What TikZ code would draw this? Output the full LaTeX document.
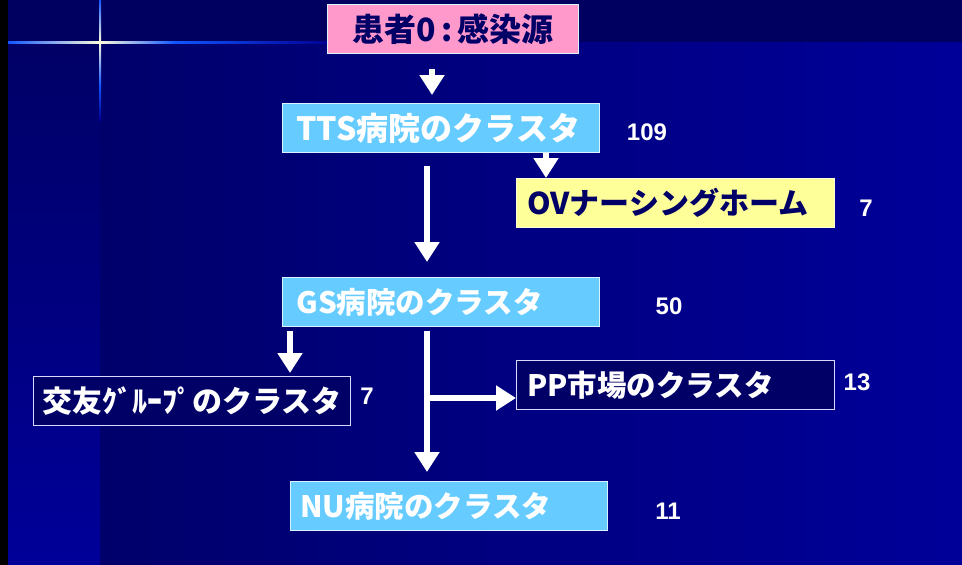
\documentclass[tikz,border=0pt]{standalone}
\usepackage{fontspec}
\usetikzlibrary{arrows.meta}
\newfontfamily\jp{Noto Sans CJK JP}
\newfontfamily\num{Liberation Sans}
\definecolor{bgdark}{HTML}{000066}
\definecolor{bglight}{HTML}{000099}
\definecolor{topband}{HTML}{000060}
\definecolor{pinkbox}{HTML}{FF99CC}
\definecolor{cyanbox}{HTML}{66CCFF}
\definecolor{yelbox}{HTML}{FFFF99}
\definecolor{navytext}{HTML}{000066}
\definecolor{sparkblue}{HTML}{1155FF}
\definecolor{sparkwhite}{HTML}{FFFFDD}
\tikzset{
  box/.style={draw=white!75!cyanbox, line width=0.8pt, minimum height=49pt,
    anchor=north west, inner ysep=0pt, align=left,
    font=\jp\bfseries\fontsize{32}{34}\selectfont},
  smallfont/.style={font=\jp\bfseries\fontsize{29.5}{32}\selectfont},
  cyan/.style={box, fill=cyanbox, text=white},
  dark/.style={box, fill=bgdark, draw=white!85!blue, text=white},
  numlabel/.style={text=white, font=\num\bfseries\fontsize{24}{26}\selectfont},
  arr/.style={draw=white, line width=5.5pt, -{Triangle[width=24pt,length=20pt]}},
}
\begin{document}
\begin{tikzpicture}[x=1pt,y=-1pt]
\useasboundingbox (0,0) rectangle (962,565);
% background
\fill[black] (0,0) rectangle (8,565);
\shade[left color=bgdark, right color=bglight] (8,42) rectangle (962,565);
\shade[top color=bgdark, bottom color=bglight] (8,42) rectangle (100,565);
\fill[topband] (8,0) rectangle (962,42);
% sparkle
\shade[left color=sparkblue, right color=sparkwhite] (8,41) rectangle (100,43);
\shade[left color=sparkwhite, right color=sparkblue] (100,41) rectangle (175,43);
\shade[left color=sparkblue, right color=bgdark!70!blue] (175,41) rectangle (330,43);
\shade[top color=sparkblue, bottom color=sparkwhite] (99,0) rectangle (101,42);
\shade[top color=sparkwhite, bottom color=sparkblue] (99,42) rectangle (101,85);
\shade[top color=sparkblue, bottom color=bgdark!70!blue] (99,85) rectangle (101,120);
% boxes
\node[box, fill=pinkbox, text=navytext, align=center, text width=241pt, inner xsep=5pt] (pink) at (327,4) {患者0\,:\,感染源};
\node[cyan, text width=289pt, inner xsep=14pt] (tts) at (282,103) {TTS病院のクラスタ};
\node[box, fill=yelbox, text=navytext, draw=white!60!yelbox, text width=296pt, inner xsep=11pt, font=\jp\bfseries\fontsize{30}{32}\selectfont] (ov) at (516,178) {OVナーシングホーム};
\node[cyan, smallfont, text width=289pt, inner xsep=14pt] (gs) at (282,277) {GS病院のクラスタ};
\node[dark, text width=299pt, inner xsep=9pt, font=\jp\bfseries\fontsize{30}{32}\selectfont] (kouyu) at (33,376) {交友ｸﾞﾙｰﾌﾟのクラスタ};
\node[dark, smallfont, text width=296pt, inner xsep=11pt] (pp) at (516,360) {PP市場のクラスタ};
\node[cyan, smallfont, text width=297pt, inner xsep=10pt] (nu) at (290,481) {NU病院のクラスタ};
% numbers
\node[numlabel] (n109) at (647,132) {109};
\node[numlabel] (n7a) at (866,208) {7};
\node[numlabel] (n50) at (669,306) {50};
\node[numlabel] (n7b) at (367,396) {7};
\node[numlabel] (n13) at (857,382) {13};
\node[numlabel] (n11) at (668,511) {11};
% connector helpers
\coordinate (x1) at (432,0);
\coordinate (x2) at (546,0);
\coordinate (x3) at (427,0);
\coordinate (x4) at (290,0);
\coordinate (br) at (427,398);
% arrows
\draw[arr, shorten <=15pt, shorten >=8pt] (pink.south -| x1) -- (tts.north -| x1);
\draw[arr] (tts.south -| x2) -- (ov.north -| x2);
\draw[arr, shorten <=13pt, shorten >=15pt] (tts.south -| x3) -- (gs.north -| x3);
\draw[arr, shorten <=4pt, shorten >=3pt] (gs.south -| x4) -- (kouyu.north -| x4);
\draw[arr, shorten <=4pt, shorten >=9pt] (gs.south -| x3) -- (nu.north -| x3);
\draw[arr] (br) -- (br -| pp.west);
\end{tikzpicture}
\end{document}
